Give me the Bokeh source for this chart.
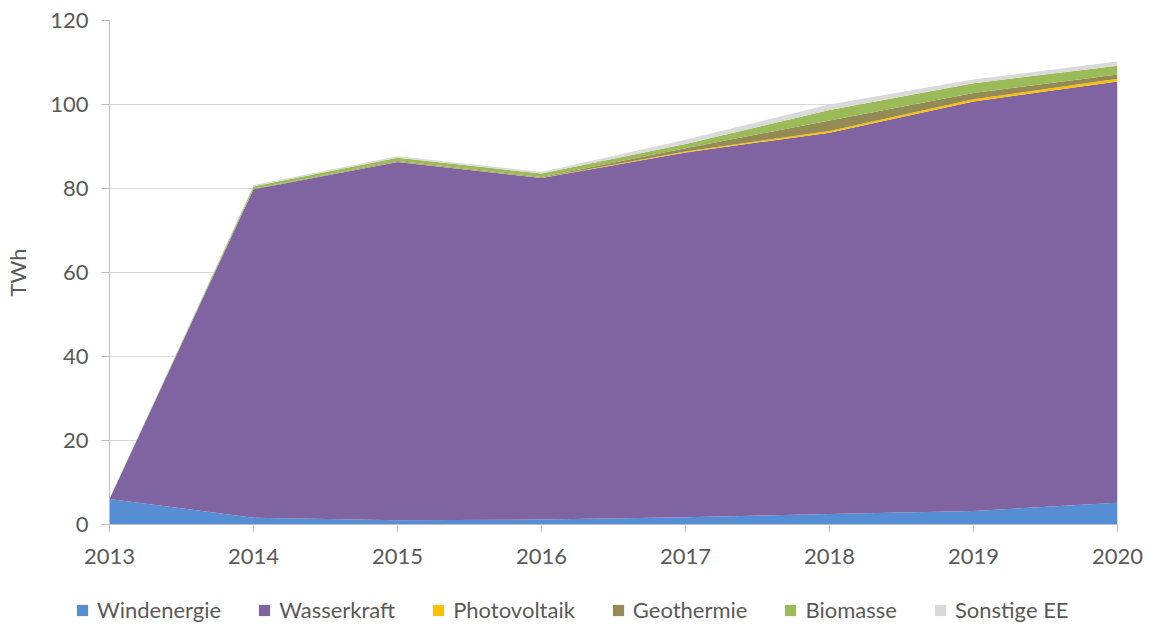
from bokeh.plotting import figure
from bokeh.models import ColumnDataSource, Legend, LegendItem, FixedTicker, Range1d
from bokeh.layouts import column
from bokeh.embed import file_html
from bokeh.resources import INLINE

years = [2013, 2014, 2015, 2016, 2017, 2018, 2019, 2020]
windenergie = [6.1, 1.6, 1.0, 1.2, 1.7, 2.5, 3.2, 5.2]
wasserkraft = [0.0, 78.2, 85.3, 81.3, 86.9, 90.8, 97.5, 100.3]
photovoltaik = [0.0, 0.0, 0.05, 0.05, 0.2, 0.4, 0.55, 0.65]
geothermie = [0.0, 0.1, 0.2, 0.2, 0.8, 2.5, 1.5, 1.0]
biomasse = [0.0, 0.6, 0.8, 0.8, 1.0, 2.5, 2.3, 2.1]
sonstige = [0.0, 0.3, 0.3, 0.4, 1.0, 1.3, 0.9, 1.0]

names = ["Windenergie", "Wasserkraft", "Photovoltaik", "Geothermie", "Biomasse", "Sonstige EE"]
keys = ["wind", "wasser", "pv", "geo", "bio", "sonst"]
colors = ["#558ED5", "#8064A2", "#FFC000", "#948A54", "#9BBB59", "#D9D9D9"]

source = ColumnDataSource(dict(year=years, wind=windenergie, wasser=wasserkraft, pv=photovoltaik,
                               geo=geothermie, bio=biomasse, sonst=sonstige))

FONT = "Lato"
TXT = "#595959"
FS = "22px"

p = figure(width=1151, height=580, output_backend="svg", toolbar_location=None,
           x_range=Range1d(2013, 2020), y_range=Range1d(0, 120),
           min_border_left=109, min_border_right=34, min_border_top=20, min_border_bottom=56)
p.outline_line_color = None

renderers = p.varea_stack(stackers=keys, x="year", color=colors, source=source)

p.xgrid.visible = False
p.ygrid.grid_line_color = "#D9D9D9"
p.ygrid.grid_line_width = 1

p.xaxis.ticker = FixedTicker(ticks=years)
p.yaxis.ticker = FixedTicker(ticks=[0, 20, 40, 60, 80, 100, 120])
for ax in (p.xaxis[0], p.yaxis[0]):
    ax.axis_line_color = "#BFBFBF"
    ax.major_tick_line_color = "#BFBFBF"
    ax.major_tick_out = 8
    ax.major_tick_in = 0
    ax.minor_tick_line_color = None
    ax.major_label_text_font = FONT
    ax.major_label_text_font_size = FS
    ax.major_label_text_color = TXT
p.xaxis.major_label_standoff = 16
p.yaxis.major_label_standoff = 13
p.yaxis.axis_label = "TWh"
p.yaxis.axis_label_text_font = FONT
p.yaxis.axis_label_text_font_size = FS
p.yaxis.axis_label_text_font_style = "normal"
p.yaxis.axis_label_text_color = TXT
p.yaxis.axis_label_standoff = 16

# legend strip below the chart
lg = figure(width=1151, height=45, output_backend="svg", toolbar_location=None,
            x_range=Range1d(0, 1), y_range=Range1d(0, 1),
            min_border_left=0, min_border_right=0, min_border_top=0, min_border_bottom=0)
try:
    lg.frame_align = False
except Exception:
    pass
lg.axis.visible = False
lg.grid.visible = False
lg.outline_line_color = None
proxies = [lg.varea(x=[5, 6], y1=[5, 5], y2=[6, 6], color=c) for c in colors]
items = [LegendItem(label=n, renderers=[r]) for n, r in zip(names, proxies)]
legend = Legend(items=items, orientation="horizontal", location=(75, 2),
                border_line_color=None, background_fill_alpha=0,
                label_text_font=FONT, label_text_font_size=FS, label_text_color=TXT,
                glyph_width=14, glyph_height=14, spacing=36, label_standoff=8,
                padding=0, margin=0)
lg.add_layout(legend, "center")

layout = column(p, lg, spacing=0)
open("out.html", "w").write(file_html(layout, INLINE))
